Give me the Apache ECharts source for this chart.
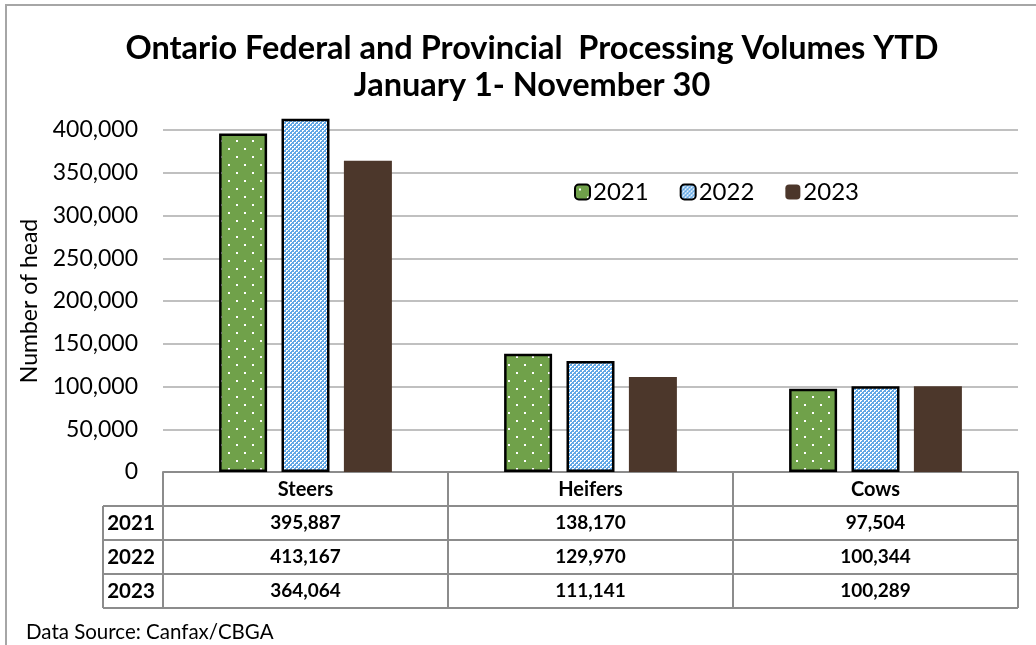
<!DOCTYPE html>
<html><head><meta charset="utf-8">
<script src="https://cdn.jsdelivr.net/npm/echarts@6/dist/echarts.min.js"></script>
<style>html,body{margin:0;padding:0;background:#fff}#c{width:1036px;height:645px}</style>
</head><body><div id="c"></div>
<script>
const categories = ['Steers', 'Heifers', 'Cows'];
const years = ['2021', '2022', '2023'];
const values2021 = [395887, 138170, 97504];
const values2022 = [413167, 129970, 100344];
const values2023 = [364064, 111141, 100289];
const yTicks = [0, 50000, 100000, 150000, 200000, 250000, 300000, 350000, 400000];
const titleText = 'Ontario Federal and Provincial  Processing Volumes YTD\nJanuary 1- November 30';
const sourceText = 'Data Source: Canfax/CBGA';

function dotPattern() {
  const c = document.createElement('canvas'); c.width = 16; c.height = 16;
  const g = c.getContext('2d');
  g.fillStyle = '#70a14a'; g.fillRect(0, 0, 16, 16);
  g.fillStyle = '#ffffff';
  g.fillRect(4, 4, 2, 2); g.fillRect(12, 12, 2, 2);
  return c;
}
function checkPattern() {
  const c = document.createElement('canvas'); c.width = 4; c.height = 4;
  const g = c.getContext('2d');
  g.fillStyle = '#62a8e6'; g.fillRect(0, 0, 4, 4);
  g.fillStyle = '#ffffff';
  g.fillRect(0, 0, 2, 1); g.fillRect(0, 1, 1, 1);
  g.fillRect(2, 2, 2, 1); g.fillRect(2, 3, 1, 1);
  return c;
}

const chart = echarts.init(document.getElementById('c'), null, {renderer: 'canvas'});
const font = 'Lato, "Open Sans", sans-serif';
const gridL = 163, gridR = 1018, gridT = 130, gridB = 472;
const rowY = [472, 506, 540, 574, 608];
const lineColor = '#8c8c8c';

function mkSeries(name, data, fill, border) {
  return {
    name, type: 'bar', data, clip: false,
    barWidth: 48, barGap: '30%',
    itemStyle: {color: fill, borderColor: border ? '#000' : 'transparent', borderWidth: border ? 2.5 : 0},
    emphasis: {disabled: true}
  };
}

const option = {
  animation: false,
  backgroundColor: '#fff',
  textStyle: {fontFamily: font},
  title: {
    text: titleText, left: 527, textAlign: 'center', top: 25, itemGap: 0,
    textStyle: {fontFamily: font, fontSize: 32.5, fontWeight: 'bold', color: '#000', lineHeight: 37}
  },
  legend: {
    data: years, left: 569, top: 175, itemWidth: 15, itemHeight: 15, itemGap: 31,
    textStyle: {fontFamily: font, fontSize: 24, color: '#000', padding: [0, 0, 0, -2]}
  },
  grid: {left: gridL, right: 1036 - gridR, top: gridT, bottom: 645 - gridB, containLabel: false},
  xAxis: {
    type: 'category', data: categories,
    axisLine: {show: true, lineStyle: {color: lineColor, width: 2}},
    axisTick: {show: false},
    axisLabel: {margin: 8, fontFamily: font, fontSize: 20, fontWeight: 'bold', color: '#000'}
  },
  yAxis: {
    type: 'value', min: 0, max: 400000, interval: 50000,
    name: 'Number of head', nameLocation: 'middle', nameGap: 122, nameRotate: 90,
    nameTextStyle: {fontFamily: font, fontSize: 23, color: '#000'},
    axisLine: {show: false}, axisTick: {show: false},
    axisLabel: {margin: 25, fontFamily: font, fontSize: 23, color: '#000',
      formatter: v => yTicks.includes(v) ? v.toLocaleString('en-US') : ''},
    splitLine: {lineStyle: {color: '#c0c0c0', width: 2}}
  },
  series: [
    mkSeries(years[0], values2021, {image: dotPattern(), repeat: 'repeat'}, true),
    mkSeries(years[1], values2022, {image: checkPattern(), repeat: 'repeat'}, true),
    mkSeries(years[2], values2023, '#4c372b', false)
  ]
};
chart.setOption(option);

// Data table built from the arrays, aligned with the category axis
const graphics = [];
const line = (x1, y1, x2, y2) => ({type: 'line', shape: {x1, y1, x2, y2}, style: {stroke: lineColor, lineWidth: 2}, silent: true});
graphics.push({type: 'rect', shape: {x: 6, y: 5, width: 1100, height: 700}, style: {fill: 'none', stroke: '#a6a6a6', lineWidth: 2}, silent: true});
for (let i = 1; i < rowY.length; i++) graphics.push(line(103, rowY[i], gridR, rowY[i]));
graphics.push(line(103, rowY[1], 103, rowY[4]));
const step = (gridR - gridL) / categories.length;
for (let i = 0; i <= categories.length; i++) {
  const x = gridL + i * step;
  graphics.push(line(x, rowY[0], x, rowY[4]));
}
const allVals = [values2021, values2022, values2023];
for (let r = 0; r < years.length; r++) {
  const cy = (rowY[r + 1] + rowY[r + 2]) / 2;
  graphics.push({type: 'text', x: 131, y: cy, style: {text: years[r], fontFamily: font, fontSize: 20.5, fontWeight: 'bold', fill: '#000', align: 'center', verticalAlign: 'middle'}, silent: true});
  for (let c = 0; c < categories.length; c++) {
    const cx = chart.convertToPixel({xAxisIndex: 0}, categories[c]);
    graphics.push({type: 'text', x: cx, y: cy, style: {text: allVals[r][c].toLocaleString('en-US'), fontFamily: font, fontSize: 19, fontWeight: 'bold', fill: '#000', align: 'center', verticalAlign: 'middle'}, silent: true});
  }
}
graphics.push({type: 'text', x: 26, y: 632, style: {text: sourceText, fontFamily: font, fontSize: 20.5, fill: '#000', align: 'left', verticalAlign: 'middle'}, silent: true});
chart.setOption({graphic: graphics});
</script></body></html>
